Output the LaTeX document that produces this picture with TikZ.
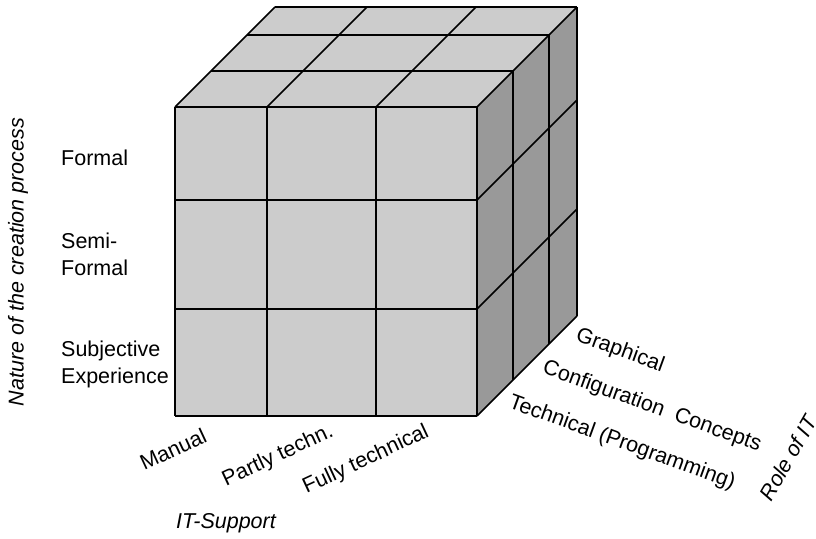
\documentclass[tikz,border=0pt]{standalone}
\usepackage{fontspec}
\setmainfont{Liberation Sans}
\definecolor{cubelight}{RGB}{204,204,204}
\definecolor{cubedark}{RGB}{153,153,153}
\begin{document}
\begin{tikzpicture}[x=1pt,y=-1pt,
  edge/.style={line width=1.5pt, line join=round},
  lbl/.style={font=\fontsize{21.5}{27}\selectfont, inner sep=0pt},
  ilbl/.style={font=\fontsize{21.5}{27}\selectfont\itshape, inner sep=0pt}]
\useasboundingbox (0,0) rectangle (816,538);
% faces
\fill[cubelight] (175,107) rectangle (477,416);
\fill[cubelight] (175,107) -- (477,107) -- (577,7) -- (275,7) -- cycle;
\fill[cubedark] (477,107) -- (577,7) -- (577,316) -- (477,416) -- cycle;
% front grid
\foreach \x in {175,267,376,477} \draw[edge] (\x,107) -- (\x,416);
\foreach \y in {107,200,309,416} \draw[edge] (175,\y) -- (477,\y);
% top grid
\foreach \x in {175,267,376,477} \draw[edge] (\x,107) -- ++(100,-100);
\foreach \d in {36,72,100} \draw[edge] (175+\d,107-\d) -- (477+\d,107-\d);
% right grid
\foreach \d in {36,72,100} \draw[edge] (477+\d,107-\d) -- (477+\d,416-\d);
\foreach \y in {200,309,416} \draw[edge] (477,\y) -- ++(100,-100);
% row labels
\node[lbl, anchor=west] (formal) at (61,158) {Formal};
\node[lbl, anchor=west, align=left] (semi) at (61,254) {Semi-\\Formal};
\node[lbl, anchor=west, align=left] (subj) at (61,364) {Subjective\\Experience};
\node[ilbl, rotate=90] (nature) at (18,262) {Nature of the creation process};
% column labels
\node[lbl, rotate=25] (manual) at (173,449) {Manual};
\node[lbl, rotate=25] (partly) at (278,456) {Partly techn.};
\node[lbl, rotate=25] (fully) at (366,460) {Fully technical};
\node[ilbl] (itsupport) at (226,523) {IT-Support};
% depth labels
\node[lbl, rotate=-20] (graph) at (620,351) {Graphical};
\node[lbl, rotate=-20] (config) at (652,407) {Configuration\ \ Concepts};
\node[lbl, rotate=-20] (techn) at (622,443) {Technical (Programming)};
\node[ilbl, rotate=60] (role) at (788,458) {Role of IT};
\end{tikzpicture}
\end{document}
